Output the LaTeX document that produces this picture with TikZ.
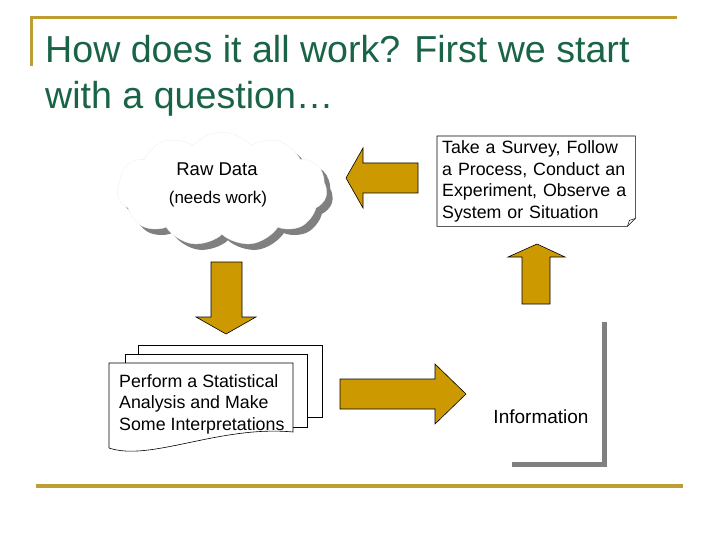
\documentclass[tikz,border=0pt]{standalone}
\usepackage{fontspec}
\setmainfont{Liberation Sans}
\usetikzlibrary{shapes.symbols,shadows}

\definecolor{titlegreen}{RGB}{25,100,70}
\definecolor{rulegold}{RGB}{190,158,50}
\definecolor{arrowgold}{RGB}{204,153,0}
\definecolor{shadowgray}{RGB}{128,128,128}

\begin{document}
\begin{tikzpicture}[x=1pt, y=-1pt,
    goldrule/.style={rulegold, line width=3pt},
    blockarrow/.style={draw=black, fill=arrowgold, line width=0.6pt, line join=miter},
    greyshadow/.style={drop shadow={shadow xshift=5pt, shadow yshift=-5pt, fill=shadowgray, opacity=1}},
    bodytext/.style={font=\fontsize{17.8}{21.5}\selectfont, align=left, inner sep=0pt},
    page/.style={draw=black, fill=white, line width=0.6pt}]
    \useasboundingbox (0,0) rectangle (720,540);
    % filets
    \draw[goldrule] (31,66) -- (31,18) -- (677,18);
    \draw[goldrule, line width=4pt] (36,486) -- (683,486);
    % titre
    \node[anchor=north west, inner sep=0pt, align=left, text=titlegreen,
        font=\fontsize{37.6}{46}\selectfont] (title) at (45,35)
        {How does it all work? First we start\\with a question…};
    % nuage
    \node[cloud, cloud puffs=11, cloud puff arc=100, aspect=1.9, minimum width=210pt,
        minimum height=114pt, inner sep=0pt, fill=white, draw=black!6,
        drop shadow={shadow xshift=6pt, shadow yshift=-6pt, fill=shadowgray, opacity=1}] (raw) at (222,189) {};
    \node[font=\fontsize{18.5}{22}\selectfont] (rawdata) at (217,169) {Raw Data};
    \node[font=\fontsize{17}{20}\selectfont] (needs) at (218,199) {(needs work)};
    % encadre
    \node[bodytext, anchor=north west, text width=188pt, inner xsep=5pt, inner ysep=4pt,
        minimum height=90pt] (survey) at (437,136)
        {Take a Survey, Follow\\a Process, Conduct an\\Experiment, Observe a\\System or Situation};
    \draw[line width=0.6pt] (survey.north west) -- (survey.north east) -- ([yshift=8pt]survey.south east)
        -- ([xshift=-8pt]survey.south east) -- (survey.south west) -- cycle;
    \draw[line width=0.5pt] ([yshift=8pt]survey.south east) -- ([xshift=-6pt, yshift=6pt]survey.south east)
        -- ([xshift=-8pt]survey.south east);
    % information
    \node[fill=white, greyshadow, minimum width=95pt, minimum height=145pt, inner sep=0pt] (infobox) at (554.5,389.5) {};
    \node[font=\fontsize{19}{22}\selectfont] (info) at (541,417) {Information};
    % pages
    \draw[page] (138,345) rectangle (322,417);
    \draw[page] (125,354) rectangle (307,427);
    \draw[page] (109,363) -- (293,363) -- (293,432) .. controls (220,425) and (150,462) .. (109,448) -- cycle;
    \node[bodytext, anchor=north west] (analysis) at (119,374)
        {Perform a Statistical\\Analysis and Make\\Some Interpretations};
    % fleches
    \filldraw[blockarrow] (346,178) -- (363,148) -- (363,163) -- (418,163) -- (418,193) -- (363,193) -- (363,208) -- cycle;
    \filldraw[blockarrow] (211,262) -- (242,262) -- (242,317) -- (256,317) -- (226,334) -- (196,317) -- (211,317) -- cycle;
    \filldraw[blockarrow] (340,379) -- (435,379) -- (435,364) -- (466,394) -- (435,424) -- (435,409) -- (340,409) -- cycle;
    \filldraw[blockarrow] (537,244) -- (565,257) -- (550,257) -- (550,304) -- (522,304) -- (522,257) -- (508,257) -- cycle;
\end{tikzpicture}
\end{document}
